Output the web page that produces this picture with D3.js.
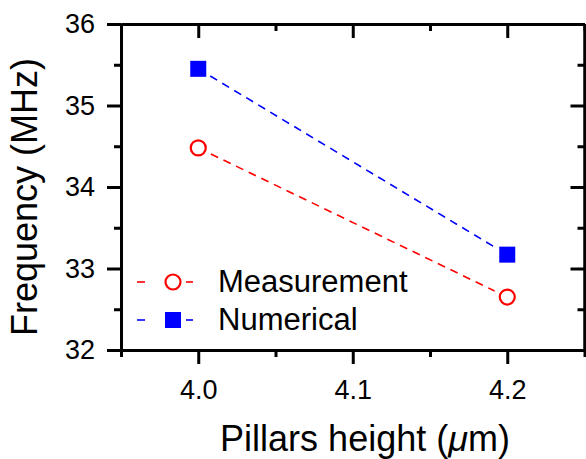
<!DOCTYPE html>
<html>
<head>
<meta charset="utf-8">
<script src="https://cdn.jsdelivr.net/npm/d3@7"></script>
<style>
  body { margin: 0; background: #fff; }
  svg { font-family: Arial, "Liberation Sans", sans-serif; }
</style>
</head>
<body>
<svg width="586" height="459"></svg>
<script>
const heights = [4.0, 4.2];
const measurement = [34.48, 32.65];
const numerical = [35.45, 33.17];
const xTicks = [4.0, 4.1, 4.2];
const yTicks = [32, 33, 34, 35, 36];
const xMinor = [3.95, 4.05, 4.15, 4.25];
const yMinor = [32.5, 33.5, 34.5, 35.5];

const svg = d3.select("svg");
const W = 586, H = 459;
const margin = { left: 121, right: 1.5, top: 24, bottom: 109 };

const x = d3.scaleLinear().domain([3.95, 4.25]).range([margin.left, W - margin.right]);
const y = d3.scaleLinear().domain([32, 36]).range([H - margin.bottom, margin.top]);

const axisW = 3;
function drawAxis(axis, transform, flip) {
  const gAx = svg.append("g").attr("transform", transform).call(axis);
  gAx.select(".domain").attr("stroke-width", axisW);
  gAx.selectAll(".tick line").attr("stroke-width", axisW);
  // 右轴刻度朝内
  if (flip === "x") gAx.selectAll(".tick line").attr("x2", function() { return -d3.select(this).attr("x2"); });
  return gAx;
}

// 下轴
drawAxis(d3.axisBottom(x).tickValues(xTicks).tickSize(14).tickSizeOuter(0).tickPadding(16).tickFormat(d3.format(".1f")),
  `translate(0,${y(32)})`)
  .selectAll("text").attr("font-size", 27).attr("fill", "#000");
drawAxis(d3.axisBottom(x).tickValues(xMinor).tickSize(7).tickSizeOuter(0).tickFormat(""), `translate(0,${y(32)})`);

// 上轴（内刻度）
drawAxis(d3.axisBottom(x).tickValues(xTicks).tickSize(14).tickSizeOuter(0).tickFormat(""), `translate(0,${y(36)})`);
drawAxis(d3.axisBottom(x).tickValues(xMinor).tickSize(7).tickSizeOuter(0).tickFormat(""), `translate(0,${y(36)})`);

// 左轴
drawAxis(d3.axisLeft(y).tickValues(yTicks).tickSize(14).tickSizeOuter(0).tickPadding(12).tickFormat(d3.format("d")),
  `translate(${x(3.95)},0)`)
  .selectAll("text").attr("font-size", 27).attr("fill", "#000");
drawAxis(d3.axisLeft(y).tickValues(yMinor).tickSize(7).tickSizeOuter(0).tickFormat(""), `translate(${x(3.95)},0)`);

// 右轴（内刻度）
drawAxis(d3.axisRight(y).tickValues(yTicks).tickSize(14).tickSizeOuter(0).tickFormat(""), `translate(${x(4.25)},0)`, "x");
drawAxis(d3.axisRight(y).tickValues(yMinor).tickSize(7).tickSizeOuter(0).tickFormat(""), `translate(${x(4.25)},0)`, "x");

// 连线（与标记留空隙）
const gap = 14;
function gappedLine(vals, color) {
  const p0 = [x(heights[0]), y(vals[0])];
  const p1 = [x(heights[1]), y(vals[1])];
  const dx = p1[0] - p0[0], dy = p1[1] - p0[1];
  const len = Math.hypot(dx, dy);
  const ux = dx / len, uy = dy / len;
  svg.append("line")
    .attr("x1", p0[0] + ux * gap).attr("y1", p0[1] + uy * gap)
    .attr("x2", p1[0] - ux * gap).attr("y2", p1[1] - uy * gap)
    .attr("stroke", color).attr("stroke-width", 1.6)
    .attr("stroke-dasharray", "8,6");
}
gappedLine(measurement, "#ff0000");
gappedLine(numerical, "#0000ff");

// 标记
svg.selectAll("circle.meas").data(heights).enter().append("circle")
  .attr("class", "meas")
  .attr("cx", d => x(d)).attr("cy", (d, i) => y(measurement[i]))
  .attr("r", 7.5).attr("fill", "none").attr("stroke", "#ff0000").attr("stroke-width", 2.2);

const sq = 16;
svg.selectAll("rect.num").data(heights).enter().append("rect")
  .attr("class", "num")
  .attr("x", d => x(d) - sq / 2).attr("y", (d, i) => y(numerical[i]) - sq / 2)
  .attr("width", sq).attr("height", sq).attr("fill", "#0000ff");

// 图例
const legend = [
  { name: "Measurement", color: "#ff0000", type: "circle", y: 282 },
  { name: "Numerical", color: "#0000ff", type: "square", y: 320 }
];
legend.forEach(l => {
  svg.append("line").attr("x1", 137).attr("x2", 145).attr("y1", l.y).attr("y2", l.y)
    .attr("stroke", l.color).attr("stroke-width", 1.6);
  svg.append("line").attr("x1", 186).attr("x2", 193).attr("y1", l.y).attr("y2", l.y)
    .attr("stroke", l.color).attr("stroke-width", 1.6);
  if (l.type === "circle") {
    svg.append("circle").attr("cx", 173).attr("cy", l.y).attr("r", 7.5)
      .attr("fill", "none").attr("stroke", l.color).attr("stroke-width", 2.2);
  } else {
    svg.append("rect").attr("x", 173 - sq / 2).attr("y", l.y - sq / 2)
      .attr("width", sq).attr("height", sq).attr("fill", l.color);
  }
  svg.append("text").attr("x", 218).attr("y", l.y + 10)
    .attr("font-size", 31).text(l.name);
});

// 轴标题
svg.append("text").attr("x", 365).attr("y", 451)
  .attr("text-anchor", "middle").attr("font-size", 36)
  .html('Pillars height (<tspan font-style="italic">μ</tspan>m)');

svg.append("text")
  .attr("transform", `translate(37,197) rotate(-90)`)
  .attr("text-anchor", "middle").attr("font-size", 36)
  .text("Frequency (MHz)");
</script>
</body>
</html>
